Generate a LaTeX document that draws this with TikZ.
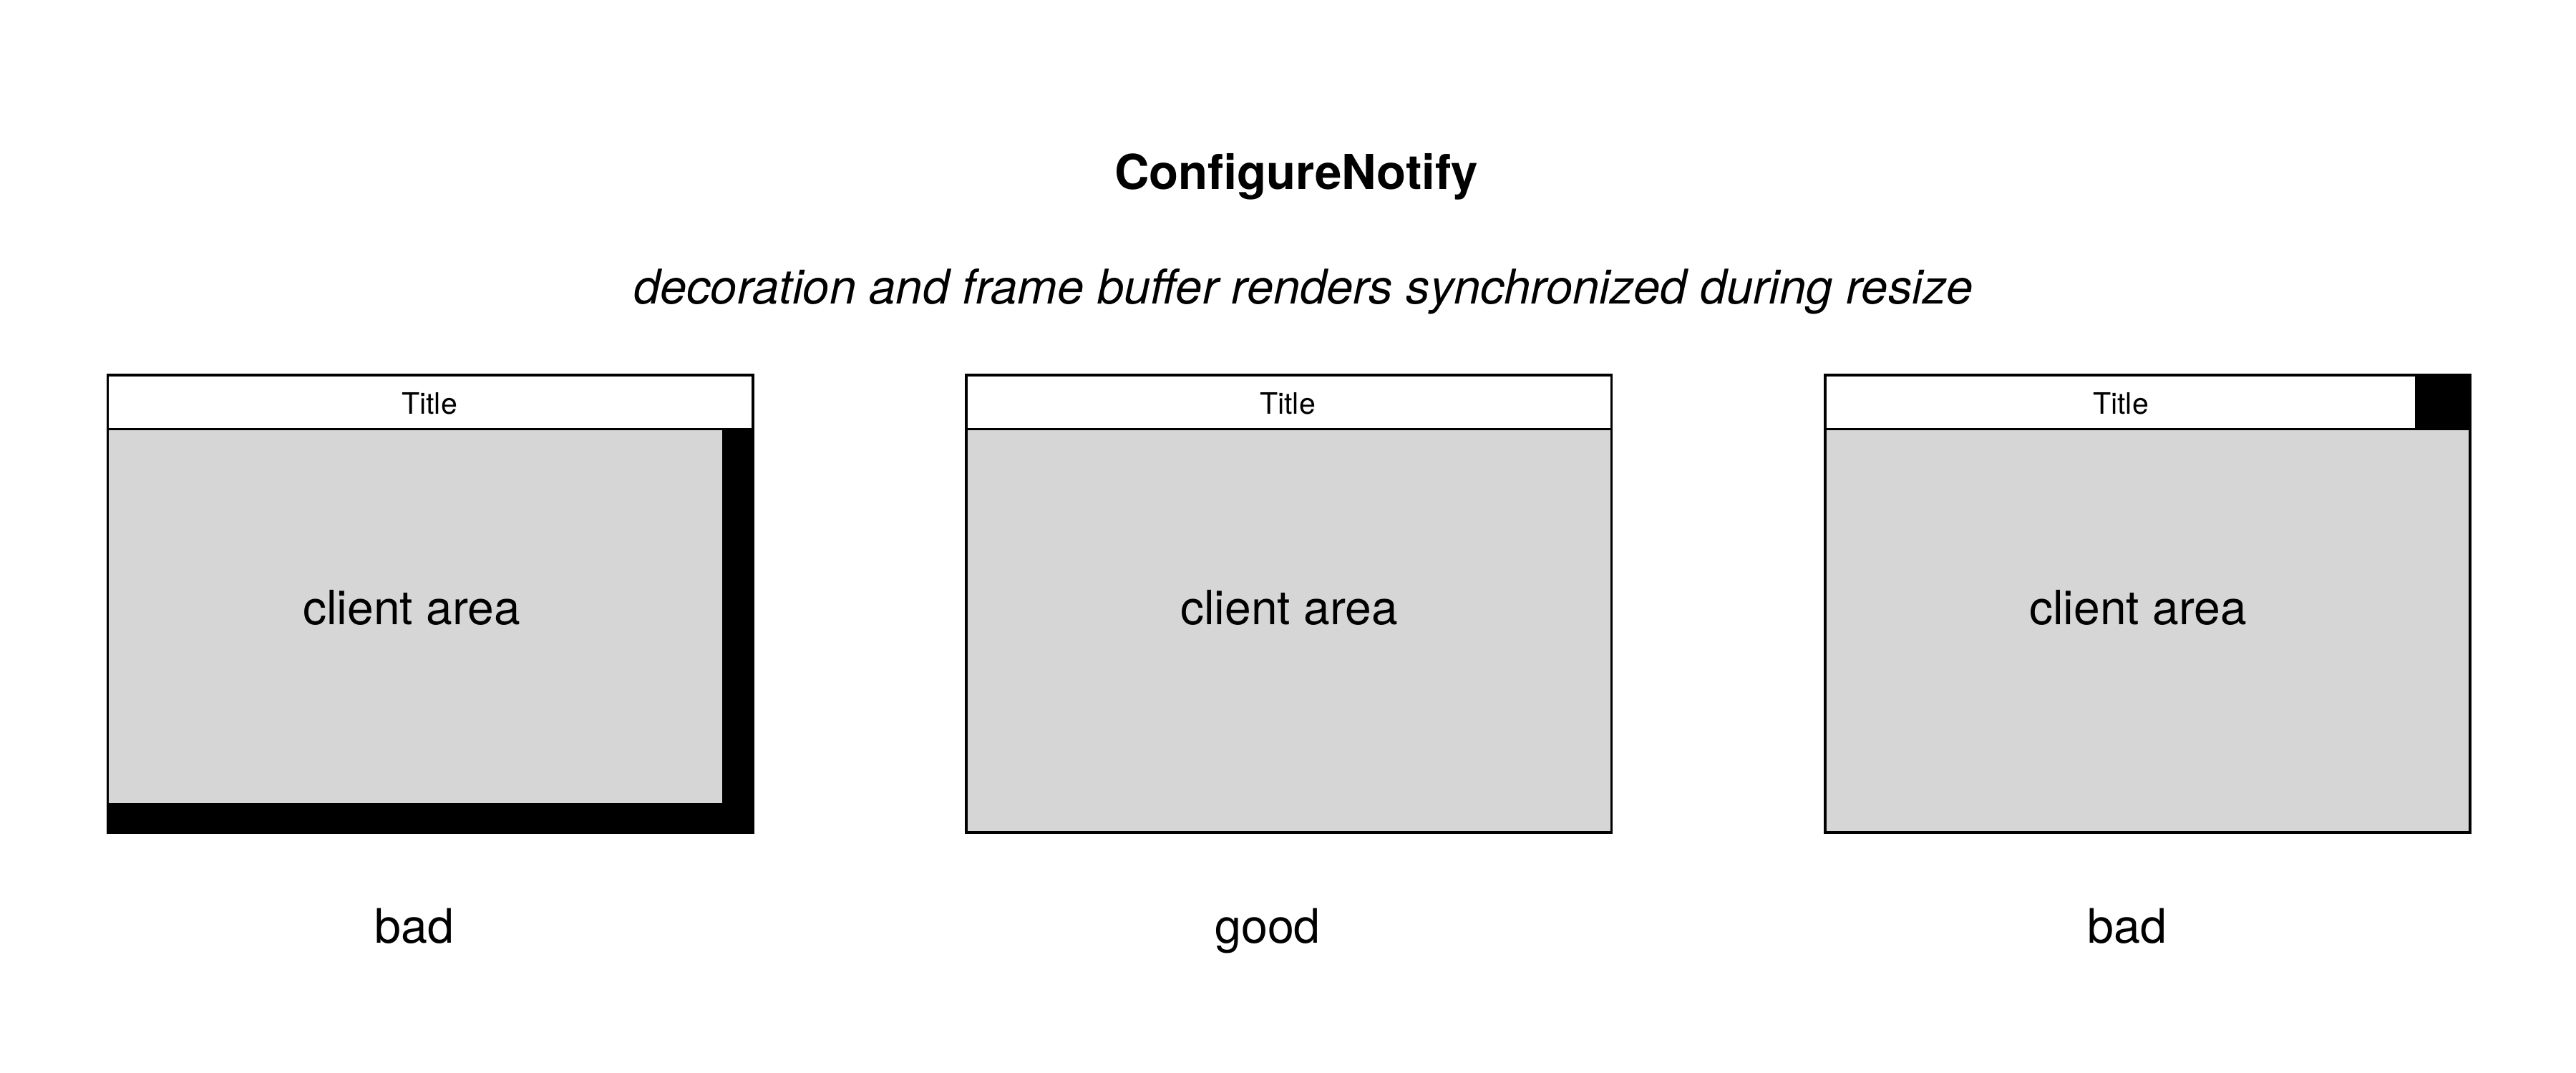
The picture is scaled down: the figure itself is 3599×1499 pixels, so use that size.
\documentclass[tikz,border=0pt]{standalone}
\usepackage{fontspec}
\setmainfont{TeX Gyre Heros}
\definecolor{clientgrey}{HTML}{D6D6D6}
\tikzset{
  frameline/.style={draw=black, line width=0.9pt},
  clientfill/.style={fill=clientgrey},
  blackfill/.style={fill=black},
  titletext/.style={anchor=base, inner sep=0pt, font=\fontsize{10.3pt}{12pt}\selectfont},
  clienttext/.style={anchor=base, inner sep=0pt, font=\fontsize{16.5pt}{19pt}\selectfont},
  labeltext/.style={anchor=base, inner sep=0pt, font=\fontsize{16.6pt}{19pt}\selectfont},
}
\begin{document}
\begin{tikzpicture}[x=0.25pt, y=-0.25pt]
\useasboundingbox (0,0) rectangle (3599,1499);
% headings
\node[anchor=base, inner sep=0pt, font=\fontsize{16.8pt}{20pt}\selectfont\bfseries] (head) at (1811,264.3) {ConfigureNotify};
\node[anchor=base, inner sep=0pt, font=\fontsize{16.7pt}{20pt}\selectfont\itshape] (sub) at (1821,424) {decoration and frame buffer renders synchronized during resize};
% ---- left window (bad) ----
\fill[clientfill] (150.5,599.5) rectangle (1052,1163);
\fill[blackfill] (1009,599.5) rectangle (1052,1163);
\fill[blackfill] (150.5,1122) rectangle (1052,1163);
\draw[frameline] (150.5,524) rectangle (1052,1163);
\draw[frameline] (150.5,599.5) -- (1052,599.5);
\node[titletext] (t1) at (600,578) {Title};
\node[clienttext] (c1) at (575,872.5) {client area};
\node[labeltext] (l1) at (579,1317) {bad};
% ---- middle window (good) ----
\fill[clientfill] (1350,599.5) rectangle (2251.5,1163);
\draw[frameline] (1350,524) rectangle (2251.5,1163);
\draw[frameline] (1350,599.5) -- (2251.5,599.5);
\node[titletext] (t2) at (1799,578) {Title};
\node[clienttext] (c2) at (1801,872.5) {client area};
\node[labeltext] (l2) at (1771,1317) {good};
% ---- right window (bad) ----
\fill[clientfill] (2550,599.5) rectangle (3451,1163);
\fill[blackfill] (3374,524) rectangle (3451,599.5);
\draw[frameline] (2550,524) rectangle (3451,1163);
\draw[frameline] (2550,599.5) -- (3451,599.5);
\node[titletext] (t3) at (2963,578) {Title};
\node[clienttext] (c3) at (2987,872.5) {client area};
\node[labeltext] (l3) at (2972,1317) {bad};
\end{tikzpicture}
\end{document}
